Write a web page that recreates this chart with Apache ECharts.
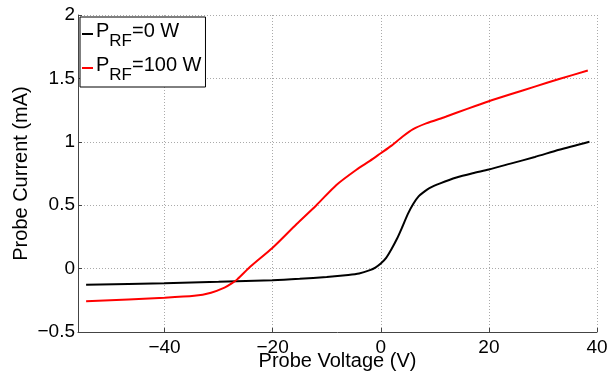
<!DOCTYPE html>
<html><head><meta charset="utf-8">
<script src="https://cdn.jsdelivr.net/npm/echarts@6/dist/echarts.min.js"></script>
<style>html,body{margin:0;padding:0;background:#fff}#c{width:607px;height:374px}</style>
</head><body><div id="c"></div>
<script>
var seriesNames = ['P_RF=0 W', 'P_RF=100 W'];
var voltage0 = [-54.5, -40, -30, -20, -15, -10, -6, -4, -2, -1, 0, 1, 2, 3, 4, 5, 6, 7, 8, 9, 11, 14, 17, 20, 24, 28.5, 33, 38.6];
var current0 = [-0.128, -0.115, -0.104, -0.091, -0.08, -0.066, -0.05, -0.038, -0.012, 0.008, 0.04, 0.085, 0.155, 0.235, 0.33, 0.43, 0.51, 0.57, 0.605, 0.635, 0.672, 0.718, 0.752, 0.782, 0.828, 0.88, 0.937, 1.0];
var voltage100 = [-54.5, -40, -34.5, -31.4, -28.9, -27.5, -26.5, -24, -20, -15.6, -11.9, -8.2, -4.5, -2, 0, 2, 4, 6, 8.4, 12, 16, 20, 24, 28.5, 33, 38.3];
var current100 = [-0.257, -0.23, -0.215, -0.19, -0.15, -0.115, -0.083, 0.02, 0.165, 0.35, 0.5, 0.66, 0.78, 0.85, 0.91, 0.97, 1.04, 1.1, 1.145, 1.198, 1.26, 1.32, 1.375, 1.435, 1.495, 1.562];

function pairs(xs, ys) { return xs.map(function (x, i) { return [x, ys[i]]; }); }
function minus(v) { return String(v).replace('-', '\u2212'); }
var font = 'Liberation Sans, Arial, sans-serif';
var chart = echarts.init(document.getElementById('c'));
chart.setOption({
  animation: false,
  backgroundColor: '#fff',
  grid: { left: 78, right: 10, top: 15, bottom: 42, containLabel: false, outerBoundsMode: 'none' },
  legend: {
    left: 80, top: 17,
    orient: 'vertical',
    backgroundColor: '#fff',
    borderColor: '#000', borderWidth: 1, borderRadius: 0,
    padding: [1, 4, 3, 2],
    itemGap: 2,
    icon: 'rect', itemWidth: 11, itemHeight: 2,
    data: seriesNames,
    formatter: function (name) {
      var parts = name.split('_');
      var rest = parts[1].split('=');
      return '{a|' + parts[0] + '}{s|' + rest[0] + '}{a|=' + rest[1] + '}';
    },
    textStyle: {
      padding: [0, 0, 0, -2],
      rich: {
        a: { fontFamily: font, fontSize: 20, color: '#000', lineHeight: 32, verticalAlign: 'top', padding: [3, 0, 0, 0] },
        s: { fontFamily: font, fontSize: 17, color: '#000', lineHeight: 32, verticalAlign: 'bottom' }
      }
    }
  },
  xAxis: {
    type: 'value', min: -56, max: 40,
    name: 'Probe Voltage (V)', nameLocation: 'middle', nameGap: 19, nameMoveOverlap: false,
    nameTextStyle: { fontFamily: font, fontSize: 20, color: '#000', verticalAlign: 'top' },
    axisLine: { show: true, onZero: false, lineStyle: { color: '#444', width: 1 } },
    axisTick: { show: true, inside: true, length: 4, lineStyle: { color: '#444' } },
    axisLabel: { fontFamily: font, fontSize: 19, color: '#000', margin: 6, showMinLabel: false, formatter: minus },
    splitLine: { show: true, lineStyle: { type: [1, 2], color: '#aaa', width: 1 } }
  },
  yAxis: {
    type: 'value', min: -0.5, max: 2, interval: 0.5,
    name: 'Probe Current (mA)', nameLocation: 'middle', nameGap: 47, nameMoveOverlap: false,
    nameTextStyle: { fontFamily: font, fontSize: 20, color: '#000' },
    axisLine: { show: true, onZero: false, lineStyle: { color: '#444', width: 1 } },
    axisTick: { show: true, inside: true, length: 4, lineStyle: { color: '#444' } },
    axisLabel: { fontFamily: font, fontSize: 19, color: '#000', margin: 3, formatter: minus },
    splitLine: { show: true, lineStyle: { type: [1, 2], color: '#aaa', width: 1 } }
  },
  series: [
    { name: seriesNames[0], type: 'line', data: pairs(voltage0, current0), showSymbol: false, smooth: 0.25, color: '#000', lineStyle: { width: 2, color: '#000' } },
    { name: seriesNames[1], type: 'line', data: pairs(voltage100, current100), showSymbol: false, smooth: 0.25, color: '#f00', lineStyle: { width: 2, color: '#f00' } }
  ]
});
</script></body></html>
